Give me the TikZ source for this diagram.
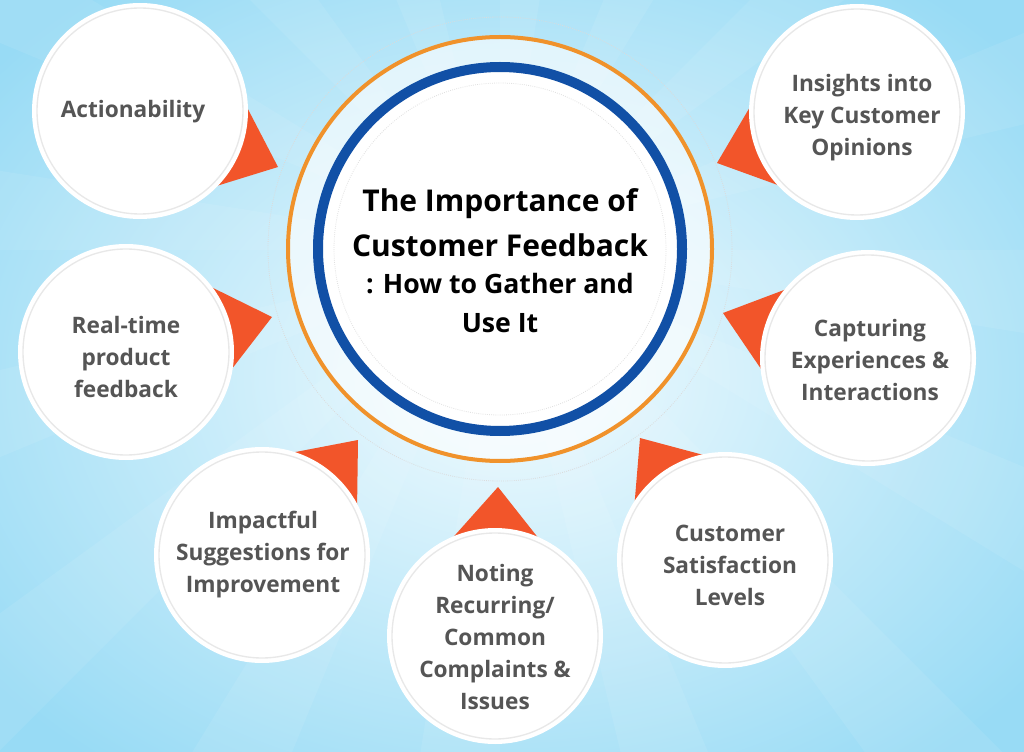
\documentclass[tikz,border=0pt]{standalone}
\usepackage{fontspec}
\setmainfont{Open Sans}
\usetikzlibrary{calc}
\definecolor{bgin}{HTML}{F2FBFE}
\definecolor{bgout}{HTML}{98DBF5}
\definecolor{ringorange}{HTML}{F0922B}
\definecolor{ringblue}{HTML}{1150A6}
\definecolor{pointer}{HTML}{F2552A}
\definecolor{sattext}{HTML}{555555}
\begin{document}
\begin{tikzpicture}[x=0.75pt,y=-0.75pt,
  sat/.style={circle,fill=white,minimum size=162pt,inner sep=0pt},
  satrim/.style={draw=black!9,line width=1pt},
  pointerfill/.style={fill=pointer},
  sattxt/.style={align=center,text=sattext,font=\fontsize{17pt}{24pt}\selectfont\bfseries},
  titletxt/.style={anchor=base,text=black,font=\fontsize{22.5pt}{27pt}\selectfont\bfseries},
  subtxt/.style={anchor=base,text=black,font=\fontsize{20pt}{24pt}\selectfont\bfseries}]
\useasboundingbox (0,0) rectangle (1024,752);
% background
\shade[inner color=bgin,outer color=bgout] (-150,-120) rectangle (1174,872);
\begin{scope}
\clip (0,0) rectangle (1024,752);
\foreach \a in {0,22.5,...,337.5}
  \fill[white,opacity=0.08] (500,250) -- ($(500,250)+(\a:1400)$) -- ($(500,250)+(\a+9:1400)$) -- cycle;
\end{scope}
% central rings
\draw[black!14,densely dotted,line width=0.6pt] (500,249) circle[radius=232];
\node[circle,draw=ringorange,line width=3pt,fill=white,fill opacity=0.6,minimum size=318pt,inner sep=0pt] (outer) at (500,249) {};
\node[circle,draw=ringblue,line width=7.5pt,fill=white,minimum size=273pt,inner sep=0pt] (core) at (500,249) {};
\draw[black!12,densely dotted,line width=0.6pt] (core.center) circle[radius=166];
\node[titletxt] (t1) at (500,212) {The Importance of};
\node[titletxt] (t2) at (500,257) {Customer Feedback};
\node[subtxt] (t3) at (500,293) {: How to Gather and};
\node[subtxt] (t4) at (500,332) {Use It};
% pointers
\fill[pointerfill] (243.5,100.6) -- (278,167) -- (210,188) -- cycle;
\fill[pointerfill] (753.5,101) -- (717,163) -- (786,188) -- cycle;
\fill[pointerfill] (205,284) -- (272,317) -- (227.5,374.6) -- cycle;
\fill[pointerfill] (792,287) -- (723,313) -- (765.5,375.6) -- cycle;
\fill[pointerfill] (711,457) -- (640,438) -- (634,510) -- cycle;
\fill[pointerfill] (448,543) -- (498,487) -- (543,544) -- cycle;
\fill[pointerfill] (285,454) -- (358,440) -- (357,512) -- cycle;
% satellites
\node[sat] (s1) at (140,111) {};
\node[sat] (s2) at (857,112) {};
\node[sat] (s3) at (126,352) {};
\node[sat] (s4) at (868,358) {};
\node[sat] (s5) at (725,560) {};
\node[sat] (s6) at (495,636) {};
\node[sat] (s7) at (262,555) {};
\foreach \s in {s1,s2,s3,s4,s5,s6,s7}
  \draw[satrim] (\s.center) circle[radius=103];
\node[sattxt] (l1) at (133,112) {Actionability};
\node[sattxt] (l2) at (862,118) {Insights into\\Key Customer\\Opinions};
\node[sattxt] (l3) at (126,357) {Real-time\\product\\feedback};
\node[sattxt] (l4) at (870,360) {Capturing\\Experiences \&\\Interactions};
\node[sattxt] (l5) at (730,565) {Customer\\Satisfaction\\Levels};
\node[sattxt] (l6) at (495,637) {Noting\\Recurring/\\Common\\Complaints \&\\Issues};
\node[sattxt] (l7) at (263,555) {Impactful\\Suggestions for\\Improvement};
\end{tikzpicture}
\end{document}
